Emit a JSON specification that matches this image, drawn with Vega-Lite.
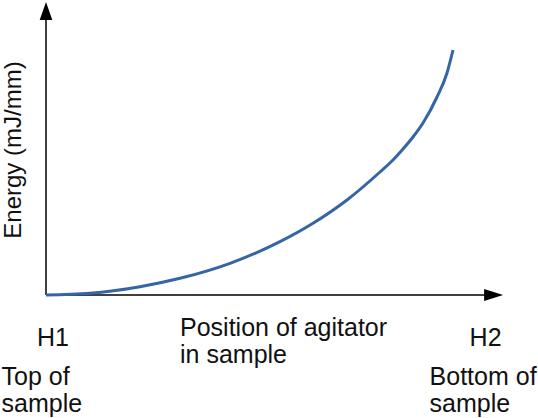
{
  "$schema": "https://vega.github.io/schema/vega-lite/v6.json",
  "width": 538,
  "height": 418,
  "padding": 0,
  "autosize": {"type": "fit", "contains": "padding"},
  "config": {"view": {"stroke": null}},
  "datasets": {
    "axes": [
      {"x": 0, "y": 0, "x2": 109.75, "y2": 0},
      {"x": 0, "y": 0, "x2": 0, "y2": 110}
    ],
    "xhead": [{"x": 111.9, "y": 0}],
    "yhead": [{"x": 0, "y": 113.6}],
    "curve": [
      {"x": 0, "y": 0},
      {"x": 11, "y": 0.68},
      {"x": 23.5, "y": 3.32},
      {"x": 33.5, "y": 6.68},
      {"x": 46, "y": 12.68},
      {"x": 58.5, "y": 21.32},
      {"x": 66.75, "y": 28.68},
      {"x": 75.25, "y": 38},
      {"x": 83.5, "y": 49.2},
      {"x": 86.75, "y": 54},
      {"x": 89.25, "y": 58.4},
      {"x": 91.75, "y": 63.2},
      {"x": 94.25, "y": 68.8},
      {"x": 97.75, "y": 79.2},
      {"x": 100.25, "y": 88.8},
      {"x": 101.75, "y": 98}
    ],
    "labels": [
      {"x": -2.25, "y": -20.3, "label": "H1"},
      {"x": 105.9, "y": -20.3, "label": "H2"},
      {"x": 33.5, "y": -16.5, "label": "Position of agitator"},
      {"x": 33.5, "y": -27.1, "label": "in sample"},
      {"x": -11.1, "y": -36.0, "label": "Top of"},
      {"x": -11.1, "y": -46.6, "label": "sample"},
      {"x": 95.9, "y": -36.0, "label": "Bottom of"},
      {"x": 95.9, "y": -46.6, "label": "sample"}
    ],
    "ylabel": [{"x": -8, "y": 58, "label": "Energy (mJ/mm)"}]
  },
  "encoding": {
    "x": {
      "field": "x",
      "type": "quantitative",
      "scale": {"domain": [-11.5, 123], "nice": false, "zero": false},
      "axis": null
    },
    "y": {
      "field": "y",
      "type": "quantitative",
      "scale": {"domain": [-49.2, 118], "nice": false, "zero": false},
      "axis": null
    }
  },
  "layer": [
    {
      "data": {"name": "axes"},
      "mark": {"type": "rule", "color": "black", "strokeWidth": 1.5},
      "encoding": {"x2": {"field": "x2"}, "y2": {"field": "y2"}}
    },
    {
      "data": {"name": "xhead"},
      "mark": {
        "type": "point",
        "shape": "M-1,-0.63L1,0L-1,0.63Z",
        "size": 361,
        "filled": true,
        "color": "black",
        "opacity": 1
      }
    },
    {
      "data": {"name": "yhead"},
      "mark": {
        "type": "point",
        "shape": "M0,-1L0.7,1L-0.7,1Z",
        "size": 324,
        "filled": true,
        "color": "black",
        "opacity": 1
      }
    },
    {
      "data": {"name": "curve"},
      "mark": {
        "type": "line",
        "color": "#3465a4",
        "strokeWidth": 3,
        "interpolate": "monotone"
      }
    },
    {
      "data": {"name": "labels"},
      "mark": {
        "type": "text",
        "align": "left",
        "baseline": "alphabetic",
        "font": "Liberation Sans",
        "fontSize": 25,
        "color": "#111111"
      },
      "encoding": {"text": {"field": "label"}}
    },
    {
      "data": {"name": "ylabel"},
      "mark": {
        "type": "text",
        "align": "center",
        "baseline": "middle",
        "angle": 270,
        "font": "Liberation Sans",
        "fontSize": 24,
        "color": "#111111"
      },
      "encoding": {"text": {"field": "label"}}
    }
  ]
}
